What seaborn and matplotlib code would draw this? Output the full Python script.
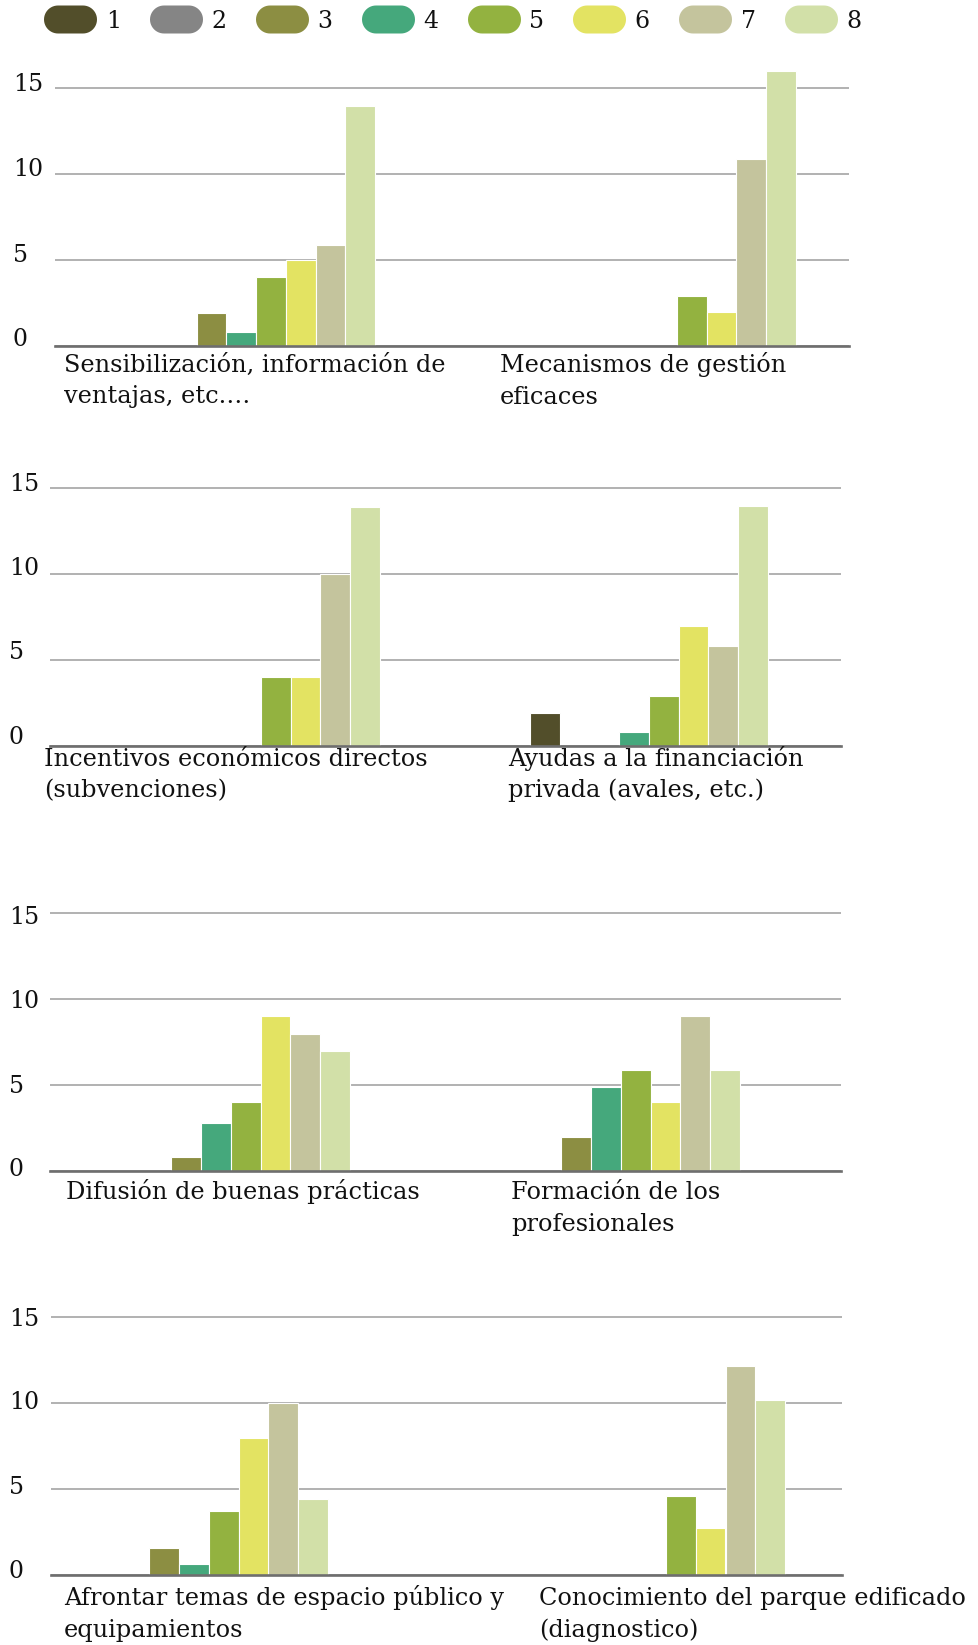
import matplotlib
matplotlib.use("Agg")
import matplotlib.pyplot as plt
import seaborn as sns
import pandas as pd
import numpy as np
from matplotlib.path import Path
from matplotlib.lines import Line2D
from matplotlib.transforms import ScaledTranslation

# ---------------- data ----------------
series = ["1", "2", "3", "4", "5", "6", "7", "8"]
colors = ["#524e2a", "#858585", "#8c8e42", "#45a87c",
          "#93b240", "#e3e362", "#c4c49d", "#d2e0a8"]

row1_cats = ["Sensibilización, información de\nventajas, etc.…",
             "Mecanismos de gestión\neficaces"]
row1_vals = [[0, 0, 1.9, 0.8, 4.0, 5.0, 5.9, 14.0],
             [0, 0, 0, 0, 2.9, 2.0, 10.9, 16.0]]

row2_cats = ["Incentivos económicos directos\n(subvenciones)",
             "Ayudas a la financiación\nprivada (avales, etc.)"]
row2_vals = [[0, 0, 0, 0, 4.0, 4.0, 10.0, 13.9],
             [1.9, 0, 0, 0.8, 2.9, 7.0, 5.8, 14.0]]

row3_cats = ["Difusión de buenas prácticas",
             "Formación de los\nprofesionales"]
row3_vals = [[0, 0, 0.8, 2.8, 4.0, 9.0, 8.0, 7.0],
             [0, 0, 2.0, 4.9, 5.9, 4.0, 9.0, 5.9]]

row4_cats = ["Afrontar temas de espacio público y\nequipamientos",
             "Conocimiento del parque edificado\n(diagnostico)"]
row4_vals = [[0, 0, 1.6, 0.65, 3.7, 8.0, 10.0, 4.4],
             [0, 0, 0, 0, 4.6, 2.75, 12.15, 10.2]]

yticks = [0, 5, 10, 15]
ytick_labels = ["0", "5", "10", "15"]

# ---------------- layout ----------------
W, H = 979, 1645
sns.set_theme(style="white")
plt.rcParams["font.family"] = ["DejaVu Serif", "DejaVu Sans"]

fig = plt.figure(figsize=(W / 100, H / 100), dpi=100)

YTOP = 17.0
PXU = 17.17  # pixels per unit

# (axes left px, axes right px, zero-line px, center cat0 px, center cat1 px,
#  tick label left px, [label left px for each cat], first baseline px,
#  upward pixel shift of each tick label)
geoms = [
    (55, 849, 346, 256, 677, 13, [64, 500], 372, [9, 7, 7, 6]),
    (50, 841, 746, 261, 649, 9, [44, 508], 766, [11, 10, 8.5, 6.5]),
    (50, 841, 1171, 231, 621, 9, [66, 511], 1199, [4, 1.5, 0, -2]),
    (51, 842, 1575, 209, 666, 9, [64, 539], 1605, [6, 4, 3.5, 0]),
]
rows = [(row1_cats, row1_vals), (row2_cats, row2_vals),
        (row3_cats, row3_vals), (row4_cats, row4_vals)]

LINE_GAP = 31.5
label_fs = 17.3

for (cats, vals), g in zip(rows, geoms):
    left, right, y0, c0, c1, tl, lab_x, base_y, shifts = g
    unit = c1 - c0
    ax = fig.add_axes([left / W, 1 - y0 / H, (right - left) / W, YTOP * PXU / H])
    df = pd.DataFrame({
        "cat": np.repeat(cats, len(series)),
        "series": series * len(cats),
        "val": np.concatenate([np.asarray(v, dtype=float) for v in vals]),
    })
    sns.barplot(data=df, x="cat", y="val", hue="series", order=cats,
                hue_order=series, palette=colors, width=238 / unit, gap=0,
                edgecolor="white", linewidth=0.8, legend=False,
                errorbar=None, saturation=1, ax=ax)
    ax.set_xlim((left - c0) / unit, (right - c0) / unit)
    ax.set_ylim(0, YTOP)
    ax.set_xlabel("")
    ax.set_ylabel("")
    ax.set_xticks([])
    ax.set_yticks(yticks)
    ax.set_yticklabels(ytick_labels)
    ax.tick_params(axis="y", length=0, pad=(left - tl) * 0.72, labelsize=17,
                   labelcolor="#111111")
    for lab, sh in zip(ax.get_yticklabels(), shifts):
        lab.set_ha("left")
        lab.set_transform(lab.get_transform() +
                          ScaledTranslation(0, sh / 100, fig.dpi_scale_trans))
    ax.set_axisbelow(True)
    ax.yaxis.grid(True, color="#9c9c9c", linewidth=1.1)
    ax.xaxis.grid(False)
    for s in ["left", "right", "top"]:
        ax.spines[s].set_visible(False)
    ax.spines["bottom"].set_color("#6e6e6e")
    ax.spines["bottom"].set_linewidth(1.9)
    ax.patch.set_alpha(0)

    # category labels (left-aligned, wrapped)
    for ci, cat in enumerate(cats):
        for li, line in enumerate(cat.split("\n")):
            fig.text(lab_x[ci] / W, 1 - (base_y + li * LINE_GAP) / H, line,
                     ha="left", va="baseline", fontsize=label_fs,
                     color="#111111")

# ---------------- legend ----------------
t1 = np.linspace(-np.pi / 2, np.pi / 2, 25)
t2 = np.linspace(np.pi / 2, 3 * np.pi / 2, 25)
a = (53 / 28 - 1) / 2
verts = np.concatenate([
    np.column_stack([a + 0.5 * np.cos(t1), 0.5 * np.sin(t1)]),
    np.column_stack([-a + 0.5 * np.cos(t2), 0.5 * np.sin(t2)]),
])
verts = np.vstack([verts, verts[:1]])
pill = Path(verts, closed=True)

handles = [Line2D([], [], marker=pill, markersize=53 * 0.72, linestyle="none",
                  markerfacecolor=c, markeredgewidth=0) for c in colors]
LFS = 17
fpx = LFS * 100 / 72
fig.legend(handles, series, loc="center left",
           bbox_to_anchor=(44 / W, 1 - 21 / H), ncol=8, frameon=False,
           fontsize=LFS, handlelength=53 / fpx, handletextpad=9 / fpx,
           columnspacing=28.7 / fpx, borderpad=0, borderaxespad=0, numpoints=1,
           labelcolor="#111111")

fig.savefig("out.png", dpi=100)
